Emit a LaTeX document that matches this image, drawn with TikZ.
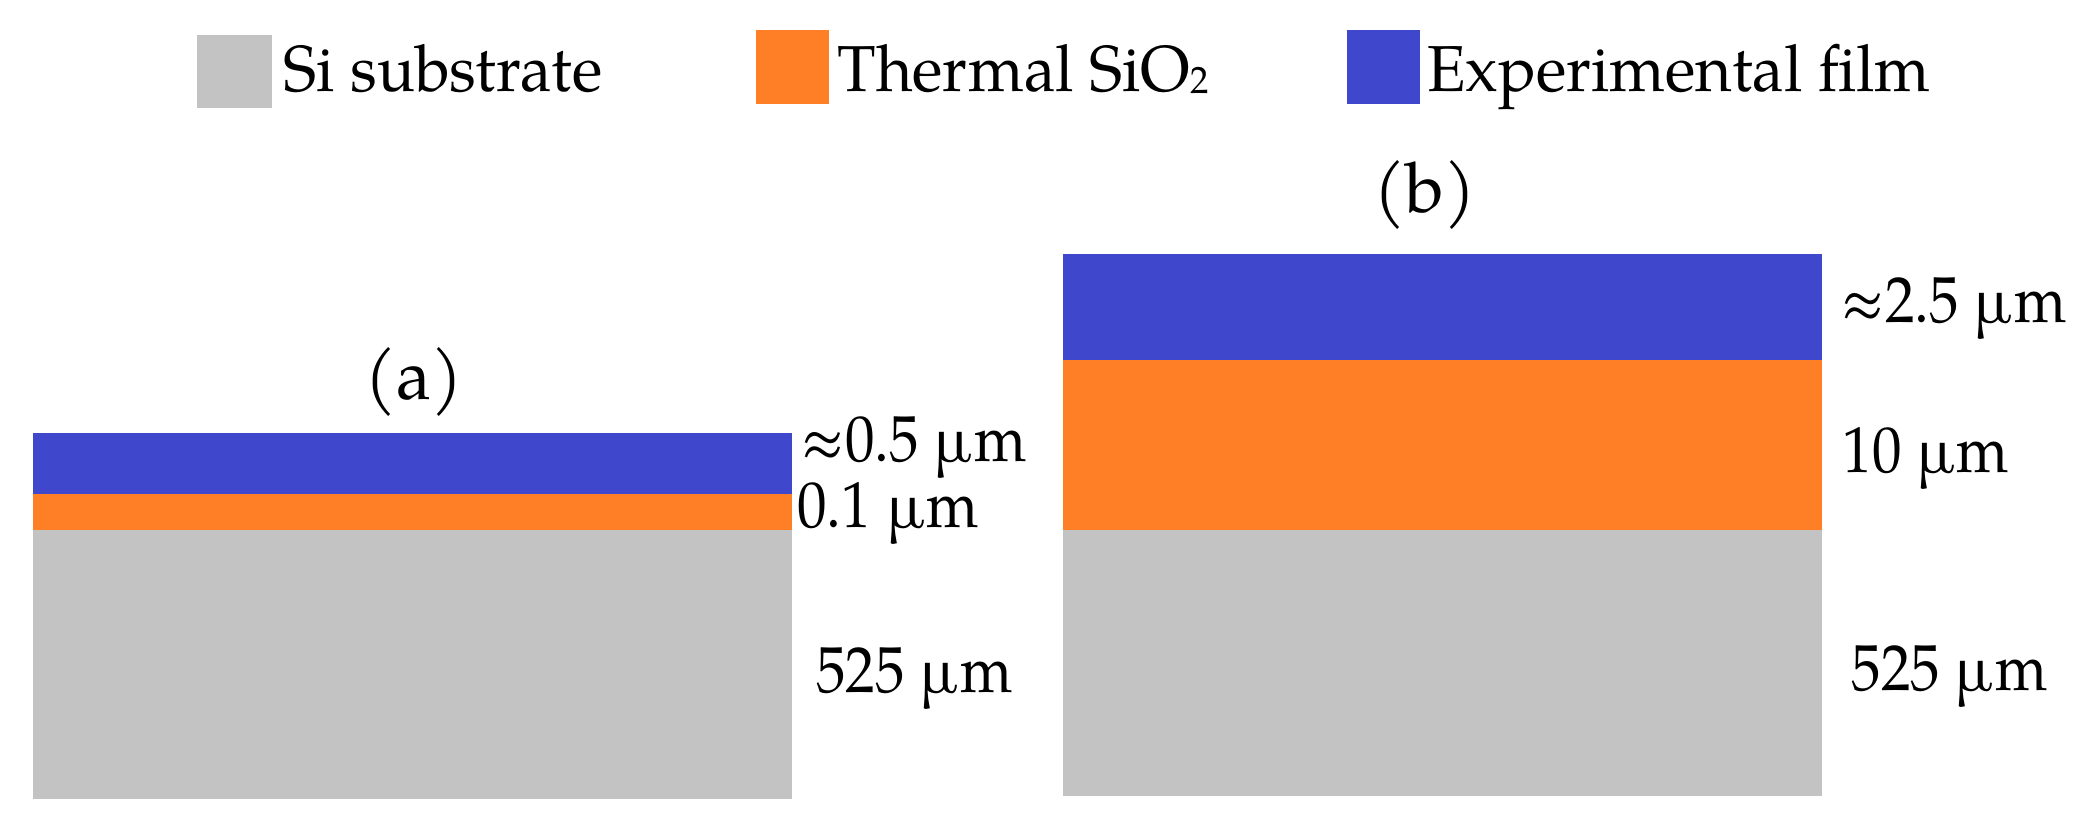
\documentclass[tikz,border=0pt]{standalone}
\usepackage{fontspec}
\setmainfont{TeX Gyre Pagella}
\newfontfamily\condfont[FakeStretch=0.91]{TeX Gyre Pagella}
\newfontfamily\legfont[FakeStretch=0.97]{TeX Gyre Pagella}
\definecolor{sigray}{RGB}{195,195,195}
\definecolor{oxorange}{RGB}{255,127,39}
\definecolor{filmblue}{RGB}{63,72,204}
\begin{document}
\begin{tikzpicture}[x=0.5pt,y=-0.5pt,
  legtext/.style={anchor=base west,inner sep=0pt,font=\legfont\fontsize{32.5}{38}\selectfont},
  dimtext/.style={anchor=base west,inner sep=0pt,font=\condfont\fontsize{32.5}{38}\selectfont},
  paneltext/.style={anchor=base,inner sep=0pt,font=\fontsize{35}{42}\selectfont}]
\useasboundingbox (0,0) rectangle (2092,833);
% legend
\fill[sigray] (197,35) rectangle (272,108);
\node[legtext] (lg1) at (283,92) {Si substrate};
\fill[oxorange] (756,30) rectangle (829,104);
\node[legtext] (lg2) at (837,92) {Thermal SiO\raisebox{-1pt}{\fontsize{19}{20}\selectfont 2}};
\fill[filmblue] (1347,30) rectangle (1420,104);
\node[legtext] (lg3) at (1427,92) {Experimental film};
% panel a
\fill[filmblue] (33,433) rectangle (792,494);
\fill[oxorange] (33,494) rectangle (792,530);
\fill[sigray] (33,530) rectangle (792,799);
\node[paneltext] (pa) at (414,400) {(a)};
\node[dimtext] (a1) at (800,462) {≈0.5 µm};
\node[dimtext] (a2) at (797,528) {0.1 µm};
\node[dimtext] (a3) at (816,692) {525 µm};
% panel b
\fill[filmblue] (1063,254) rectangle (1822,360);
\fill[oxorange] (1063,360) rectangle (1822,530);
\fill[sigray] (1063,530) rectangle (1822,796);
\node[paneltext] (pb) at (1425,213) {(b)};
\node[dimtext] (b1) at (1840,323) {≈2.5 µm};
\node[dimtext] (b2) at (1842,473) {10 µm};
\node[dimtext] (b3) at (1851,690) {525 µm};
\end{tikzpicture}
\end{document}
